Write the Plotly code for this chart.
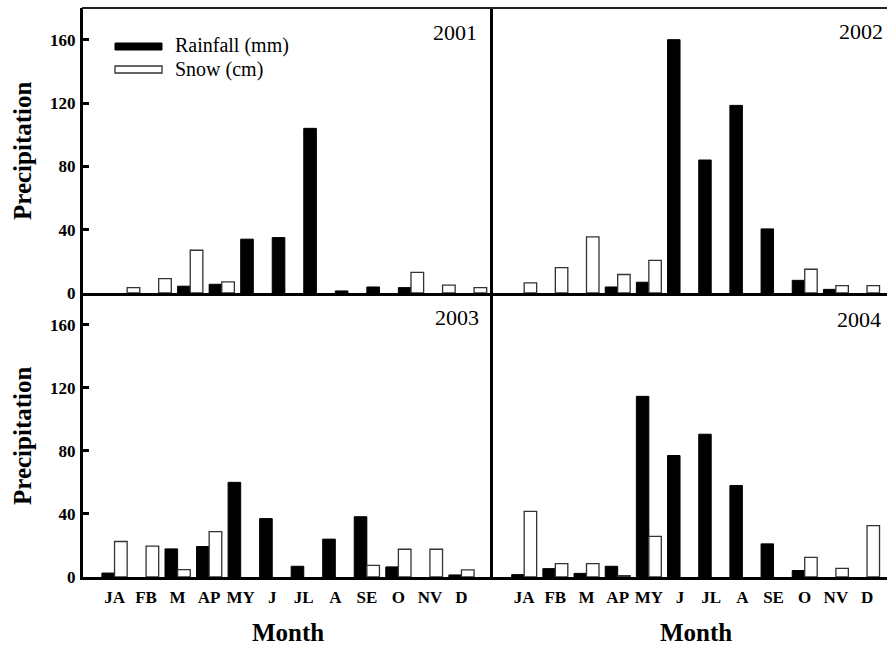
import plotly.graph_objects as go

months = ["JA", "FB", "M", "AP", "MY", "J", "JL", "A", "SE", "O", "NV", "D"]
month_pos = list(range(1, 13))
y_ticks = [0, 40, 80, 120, 160]
years = ["2001", "2002", "2003", "2004"]

rain_2001 = [0, 0, 4.3, 5.5, 34, 35, 104, 1.3, 3.8, 3.4, 0, 0]
snow_2001 = [3.4, 9.1, 27, 7, 0, 0, 0, 0, 0, 13, 5, 3.4]
rain_2002 = [0, 0, 0, 3.8, 6.8, 160, 84, 118.5, 40.5, 8, 2.3, 0]
snow_2002 = [6.4, 16, 35.4, 11.7, 20.6, 0, 0, 0, 0, 15, 4.7, 4.7]
rain_2003 = [2.5, 0, 17.8, 19.3, 60, 37, 6.8, 24, 38.2, 6.4, 0, 1.3]
snow_2003 = [22.5, 19.6, 4.7, 28.7, 0, 0, 0, 0, 7.4, 17.6, 17.6, 4.5]
rain_2004 = [1.5, 5.3, 2.3, 6.8, 114.5, 77, 90.5, 58, 21, 4.1, 0, 0]
snow_2004 = [41.6, 8.5, 8.5, 0.9, 25.7, 0, 0, 0, 0, 12.5, 5.5, 32.5]

W, H = 887, 645
FONT = "Liberation Serif"


def fx(p):
    return p / W


def fy(p):
    return 1 - p / H


def outline(vals, w):
    return [0 if v == 0 else w for v in vals]


fig = go.Figure()

panels = [
    (rain_2001, snow_2001, "x", "y"),
    (rain_2002, snow_2002, "x2", "y2"),
    (rain_2003, snow_2003, "x3", "y3"),
    (rain_2004, snow_2004, "x4", "y4"),
]
for i, (rain, snow, xa, ya) in enumerate(panels):
    fig.add_trace(go.Bar(x=month_pos, y=rain, xaxis=xa, yaxis=ya, name="Rainfall (mm)",
                         marker=dict(color="black", line=dict(color="black", width=outline(rain, 1))),
                         showlegend=False))
    fig.add_trace(go.Bar(x=month_pos, y=snow, xaxis=xa, yaxis=ya, name="Snow (cm)",
                         marker=dict(color="white", line=dict(color="#333333", width=outline(snow, 1.3))),
                         showlegend=False))

left_dom = [fx(83), fx(493)]
right_dom = [fx(493), 1.0]
top_dom = [fy(293), fy(8)]
bot_dom = [fy(577), fy(293)]

line_kw = dict(showline=True, linewidth=3, linecolor="black", showgrid=False, zeroline=False,
               automargin=False)
ytick_font = dict(family=FONT, size=17, color="black", weight="bold")

yleft = dict(range=[0, 180], tickvals=y_ticks, ticks="inside", ticklen=6, tickwidth=3,
             tickcolor="black", tickfont=ytick_font, ticklabelstandoff=1, **line_kw)
yright = dict(range=[0, 180], ticks="", showticklabels=False, **line_kw)
xbottom = dict(tickvals=month_pos, ticktext=months, ticks="", tickfont=ytick_font,
               ticklabelstandoff=3, **line_kw)
xtop = dict(ticks="", showticklabels=False, **line_kw)

fig.update_layout(
    width=W, height=H,
    margin=dict(l=0, r=0, t=0, b=0, autoexpand=False),
    paper_bgcolor="white", plot_bgcolor="white",
    barmode="group", bargap=0.2, bargroupgap=0,
    xaxis=dict(domain=left_dom, anchor="y", range=[-0.4, 12.6], **xtop),
    yaxis=dict(domain=top_dom, anchor="x", **yleft),
    xaxis2=dict(domain=right_dom, anchor="y2", range=[0, 12.64], **xtop),
    yaxis2=dict(domain=top_dom, anchor="x2", **yright),
    xaxis3=dict(domain=left_dom, anchor="y3", range=[0, 13], **xbottom),
    yaxis3=dict(domain=bot_dom, anchor="x3", **yleft),
    xaxis4=dict(domain=right_dom, anchor="y4", range=[0, 12.64], **xbottom),
    yaxis4=dict(domain=bot_dom, anchor="x4", **yright),
)

# top border
fig.add_shape(type="line", xref="paper", yref="paper", x0=fx(82), x1=1.0, y0=fy(8), y1=fy(8),
              line=dict(color="#222222", width=2))

# legend
fig.add_shape(type="rect", xref="paper", yref="paper", x0=fx(115), x1=fx(162), y0=fy(50), y1=fy(43),
              fillcolor="black", line=dict(color="black", width=1))
fig.add_shape(type="rect", xref="paper", yref="paper", x0=fx(115), x1=fx(162), y0=fy(73), y1=fy(66),
              fillcolor="white", line=dict(color="#333333", width=1.3))
leg_font = dict(family=FONT, size=20, color="black")
fig.add_annotation(text="Rainfall (mm)", xref="paper", yref="paper", x=fx(173), y=fy(46),
                   xanchor="left", yanchor="middle", showarrow=False, font=leg_font)
fig.add_annotation(text="Snow (cm)", xref="paper", yref="paper", x=fx(173), y=fy(70),
                   xanchor="left", yanchor="middle", showarrow=False, font=leg_font)

# year labels
year_font = dict(family=FONT, size=22, color="black")
for yr, (xr, yc) in zip(years, [(479, 33), (885, 31), (481, 317), (883, 319)]):
    fig.add_annotation(text=yr, xref="paper", yref="paper", x=fx(xr), y=fy(yc),
                       xanchor="right", yanchor="middle", showarrow=False, font=year_font)

# axis titles
title_font = dict(family=FONT, size=25, color="black", weight="bold")
for yc in (151, 436):
    fig.add_annotation(text="Precipitation", xref="paper", yref="paper", x=fx(22), y=fy(yc),
                       xanchor="center", yanchor="middle", textangle=-90, showarrow=False,
                       font=title_font)
for xc in (288, 696):
    fig.add_annotation(text="Month", xref="paper", yref="paper", x=fx(xc), y=fy(632),
                       xanchor="center", yanchor="middle", showarrow=False, font=title_font)

fig.write_html(
    "out.html",
    config={"displayModeBar": False},
    post_script=(
        "document.documentElement.style.overflow='hidden';"
        "document.body.style.margin='0';document.body.style.overflow='hidden';"
        "var g=document.querySelector('.plotly-graph-div');"
        "g.style.position='fixed';g.style.left='0px';g.style.top='0px';"
    ),
)
